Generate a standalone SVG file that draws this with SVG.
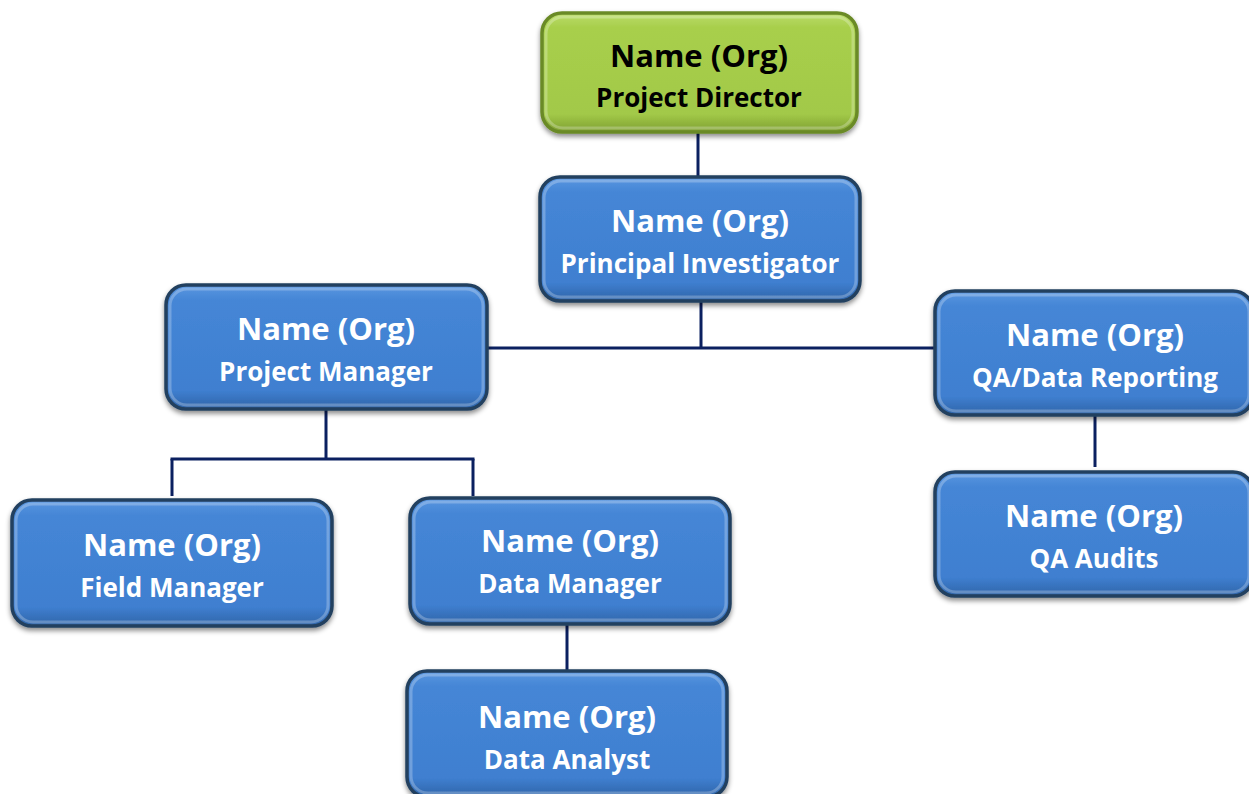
<svg xmlns="http://www.w3.org/2000/svg" width="1249" height="794" viewBox="0 0 1249 794">
<defs>
<linearGradient id="gBlue" x1="0" y1="0" x2="0" y2="1">
<stop offset="0" stop-color="#5b97e0"/>
<stop offset="0.12" stop-color="#4586d6"/>
<stop offset="0.85" stop-color="#3f7fd0"/>
<stop offset="1" stop-color="#2f64a8"/>
</linearGradient>
<linearGradient id="gGreen" x1="0" y1="0" x2="0" y2="1">
<stop offset="0" stop-color="#bbdc6a"/>
<stop offset="0.12" stop-color="#a8cf4c"/>
<stop offset="0.85" stop-color="#a2c948"/>
<stop offset="1" stop-color="#7e9f32"/>
</linearGradient>
<filter id="sh" x="-10%" y="-10%" width="120%" height="130%">
<feDropShadow dx="0" dy="3" stdDeviation="2.5" flood-color="#000" flood-opacity="0.45"/>
</filter>
</defs>
<style>
.box{stroke:#23405f;stroke-width:3.5;filter:url(#sh)}
.blue{fill:url(#gBlue)}
.green{fill:url(#gGreen);stroke:#6a8a28}
.hl{fill:none;stroke:#ffffff;stroke-opacity:0.25;stroke-width:3}
text{font-family:"Open Sans","Liberation Sans",sans-serif;font-weight:bold;text-anchor:middle}
.t1{font-size:31px}
.t2{font-size:26px}
.w{fill:#ffffff}
.k{fill:#000000}
.c{stroke:#0b2060;stroke-width:3;fill:none}
</style>
<rect width="1249" height="794" fill="#ffffff"/>
<g id="connectors">
<line class="c" x1="698" y1="133" x2="698" y2="177"/>
<line class="c" x1="701" y1="302" x2="701" y2="348"/>
<line class="c" x1="488" y1="348" x2="935" y2="348"/>
<line class="c" x1="326" y1="410" x2="326" y2="459"/>
<line class="c" x1="170.5" y1="459" x2="474.5" y2="459"/>
<line class="c" x1="172" y1="459" x2="172" y2="496"/>
<line class="c" x1="473" y1="459" x2="473" y2="496"/>
<line class="c" x1="1095" y1="416" x2="1095" y2="467"/>
<line class="c" x1="567" y1="625" x2="567" y2="670"/>
</g>
<g id="n-director">
<rect class="box green" x="542" y="13" width="315" height="119" rx="20"/>
<rect class="hl" x="546" y="17" width="307" height="111" rx="17"/>
<text class="t1 k" x="699" y="67">Name (Org)</text>
<text class="t2 k" x="699" y="107">Project Director</text>
</g>
<g id="n-pi">
<rect class="box blue" x="540" y="177" width="320" height="124" rx="20"/>
<rect class="hl" x="544" y="181" width="312" height="116" rx="17"/>
<text class="t1 w" x="700" y="232">Name (Org)</text>
<text class="t2 w" x="700" y="273">Principal Investigator</text>
</g>
<g id="n-pm">
<rect class="box blue" x="166" y="285" width="321" height="124" rx="20"/>
<rect class="hl" x="170" y="289" width="313" height="116" rx="17"/>
<text class="t1 w" x="326" y="340">Name (Org)</text>
<text class="t2 w" x="326" y="381">Project Manager</text>
</g>
<g id="n-qa">
<rect class="box blue" x="935" y="291" width="318" height="124" rx="20"/>
<rect class="hl" x="939" y="295" width="310" height="116" rx="17"/>
<text class="t1 w" x="1095" y="346">Name (Org)</text>
<text class="t2 w" x="1095" y="387">QA/Data Reporting</text>
</g>
<g id="n-audits">
<rect class="box blue" x="935" y="472" width="318" height="124" rx="20"/>
<rect class="hl" x="939" y="476" width="310" height="116" rx="17"/>
<text class="t1 w" x="1094" y="527">Name (Org)</text>
<text class="t2 w" x="1094" y="568">QA Audits</text>
</g>
<g id="n-field">
<rect class="box blue" x="12" y="500" width="320" height="126" rx="20"/>
<rect class="hl" x="16" y="504" width="312" height="118" rx="17"/>
<text class="t1 w" x="172" y="556">Name (Org)</text>
<text class="t2 w" x="172" y="597">Field Manager</text>
</g>
<g id="n-dm">
<rect class="box blue" x="410" y="498" width="320" height="126" rx="20"/>
<rect class="hl" x="414" y="502" width="312" height="118" rx="17"/>
<text class="t1 w" x="570" y="552">Name (Org)</text>
<text class="t2 w" x="570" y="593">Data Manager</text>
</g>
<g id="n-da">
<rect class="box blue" x="407" y="671" width="320" height="126" rx="20"/>
<rect class="hl" x="411" y="675" width="312" height="118" rx="17"/>
<text class="t1 w" x="567" y="728">Name (Org)</text>
<text class="t2 w" x="567" y="769">Data Analyst</text>
</g>
</svg>
